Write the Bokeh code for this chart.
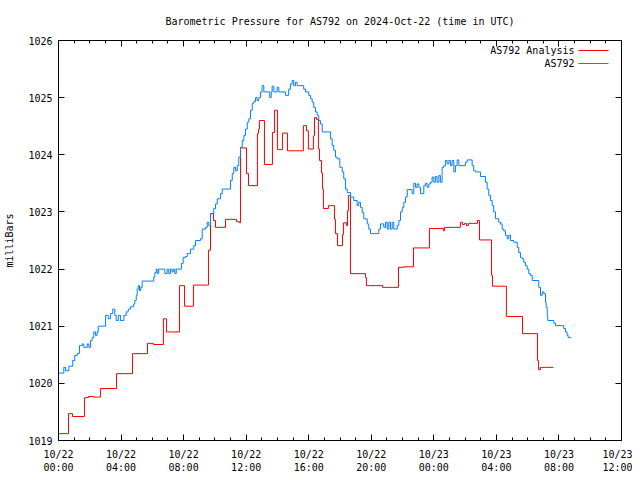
from bokeh.plotting import figure
from bokeh.models import Range1d, FixedTicker, LinearAxis, Label, BoxAnnotation
from bokeh.embed import file_html
from bokeh.resources import INLINE

FONT = "DejaVu Sans Mono"
RED = "#ff0000"
BLUE = "#0080ff"

# AS792 Analysis (hours since 2024-10-22 00:00 UTC, millibars)
analysis_hours = [0.00, 0.64, 0.90, 1.66, 1.92, 2.24, 2.69, 3.71, 4.73, 5.69, 6.07, 6.71, 6.91,
                  7.74, 8.06, 8.63, 9.59, 9.72, 9.91, 10.04, 10.68, 11.38, 11.57, 11.64, 12.02,
                  12.15, 12.72, 12.79, 12.85, 13.17, 13.68, 13.81, 14.00, 14.32, 14.64, 15.66,
                  15.86, 15.98, 16.30, 16.37, 16.50, 16.62, 16.69, 16.82, 16.88, 16.94, 17.26,
                  17.65, 17.71, 17.84, 18.16, 18.22, 18.41, 18.48, 18.54, 18.67, 19.63, 19.69,
                  20.72, 21.74, 22.06, 22.70, 23.72, 24.62, 24.68, 25.70, 25.83, 25.96, 26.09,
                  26.21, 26.79, 26.92, 27.69, 27.75, 28.64, 29.67, 30.63, 30.69, 30.82, 31.65]
analysis_mbar = [1019.12, 1019.47, 1019.42, 1019.75, 1019.77, 1019.76, 1019.91, 1020.17, 1020.52,
                 1020.70, 1020.68, 1021.13, 1020.90, 1021.71, 1021.35, 1021.72, 1022.33, 1022.97,
                 1022.85, 1022.73, 1022.87, 1022.83, 1022.81, 1024.12, 1023.67, 1023.46, 1024.37,
                 1024.45, 1024.60, 1023.83, 1024.39, 1024.78, 1024.09, 1024.38, 1024.07, 1024.51,
                 1024.42, 1024.10, 1024.33, 1024.65, 1024.62, 1024.10, 1023.90, 1023.68, 1023.40,
                 1023.06, 1023.11, 1022.87, 1022.62, 1022.41, 1022.60, 1022.81, 1022.76, 1023.02,
                 1023.29, 1021.92, 1021.85, 1021.71, 1021.68, 1022.03, 1022.04, 1022.37, 1022.71,
                 1022.67, 1022.73, 1022.82, 1022.78, 1022.80, 1022.76, 1022.80, 1022.85, 1022.51,
                 1021.89, 1021.70, 1021.17, 1020.87, 1020.40, 1020.24, 1020.28, 1020.28]

# AS792 station observations
station_hours = [0.00, 0.34, 0.45, 0.66, 0.91, 1.04, 1.20, 1.34, 1.52, 1.62, 1.84, 1.94, 2.05,
                 2.15, 2.26, 2.37, 2.47, 2.54, 3.01, 3.18, 3.32, 3.47, 3.60, 3.69, 3.82, 3.96,
                 4.18, 4.33, 4.46, 4.60, 4.81, 4.88, 4.97, 5.03, 5.10, 5.18, 5.26, 5.35, 6.09,
                 6.16, 6.25, 6.31, 6.41, 6.80, 6.95, 7.05, 7.16, 7.27, 7.37, 7.44, 7.53, 7.86,
                 7.97, 8.12, 8.23, 8.44, 8.65, 8.76, 9.08, 9.19, 9.40, 9.51, 9.61, 9.72, 9.93,
                 10.04, 10.15, 10.36, 10.47, 11.00, 11.11, 11.21, 11.32, 11.43, 11.53, 11.64,
                 11.75, 11.85, 11.96, 12.07, 12.17, 12.28, 12.39, 12.49, 12.60, 12.70, 12.81,
                 12.92, 13.02, 13.13, 13.51, 13.60, 13.66, 13.77, 13.98, 14.09, 14.51, 14.72,
                 14.83, 14.94, 15.04, 15.15, 15.26, 15.68, 15.79, 16.00, 16.11, 16.22, 16.32,
                 16.43, 16.54, 16.64, 16.75, 16.86, 17.39, 17.50, 17.60, 17.71, 17.82, 17.99,
                 18.14, 18.24, 18.35, 18.46, 18.67, 18.88, 19.10, 19.20, 19.31, 19.42, 19.52,
                 19.74, 19.84, 19.95, 20.48, 20.59, 20.80, 20.91, 21.02, 21.12, 21.23, 21.34,
                 21.44, 21.66, 21.76, 21.87, 21.98, 22.08, 22.19, 22.30, 22.61, 22.72, 22.83,
                 22.93, 23.04, 23.15, 23.36, 23.47, 23.57, 23.68, 23.79, 23.89, 24.00, 24.10,
                 24.21, 24.32, 24.42, 24.53, 24.64, 24.74, 24.85, 24.96, 25.06, 25.17, 25.28,
                 25.38, 25.49, 25.60, 26.02, 26.13, 26.45, 26.55, 26.66, 26.98, 27.30, 27.41,
                 27.51, 27.62, 27.73, 27.83, 27.94, 28.15, 28.26, 28.37, 28.47, 28.58, 28.69,
                 28.79, 28.90, 29.11, 29.33, 29.43, 29.54, 29.65, 29.75, 29.86, 29.97, 30.07,
                 30.18, 30.29, 30.71, 30.82, 30.93, 31.03, 31.14, 31.18, 31.25, 31.29, 31.67,
                 31.78, 32.31, 32.42, 32.52, 32.59, 32.78]
station_mbar = [1020.18, 1020.28, 1020.22, 1020.30, 1020.40, 1020.49, 1020.52, 1020.66, 1020.69,
                1020.63, 1020.69, 1020.63, 1020.75, 1020.80, 1020.90, 1020.84, 1020.90, 1021.00,
                1021.19, 1021.13, 1021.22, 1021.30, 1021.19, 1021.10, 1021.19, 1021.10, 1021.19,
                1021.25, 1021.30, 1021.34, 1021.39, 1021.45, 1021.54, 1021.65, 1021.71, 1021.62,
                1021.68, 1021.79, 1021.86, 1021.94, 1022.00, 1021.92, 1022.00, 1021.92, 1022.00,
                1021.92, 1022.00, 1021.95, 1022.00, 1021.92, 1022.00, 1022.10, 1022.20, 1022.22,
                1022.27, 1022.35, 1022.41, 1022.50, 1022.53, 1022.70, 1022.73, 1022.82, 1022.76,
                1022.97, 1023.06, 1023.14, 1023.23, 1023.32, 1023.40, 1023.55, 1023.67, 1023.78,
                1023.72, 1023.81, 1023.96, 1024.13, 1024.25, 1024.34, 1024.45, 1024.57, 1024.63,
                1024.78, 1024.90, 1024.93, 1025.00, 1024.95, 1025.00, 1025.10, 1025.21, 1025.10,
                1025.00, 1025.10, 1025.20, 1025.10, 1025.18, 1025.10, 1025.04, 1025.15, 1025.24,
                1025.30, 1025.21, 1025.27, 1025.21, 1025.15, 1025.10, 1025.04, 1024.98, 1024.92,
                1024.83, 1024.75, 1024.69, 1024.60, 1024.54, 1024.40, 1024.28, 1024.16, 1024.08,
                1023.96, 1023.93, 1023.78, 1023.70, 1023.58, 1023.40, 1023.34, 1023.26, 1023.20,
                1023.11, 1023.17, 1023.08, 1022.99, 1022.88, 1022.79, 1022.70, 1022.62, 1022.70,
                1022.79, 1022.73, 1022.82, 1022.70, 1022.82, 1022.70, 1022.82, 1022.70, 1022.76,
                1022.85, 1023.00, 1023.08, 1023.17, 1023.26, 1023.39, 1023.32, 1023.50, 1023.43,
                1023.49, 1023.43, 1023.32, 1023.46, 1023.50, 1023.43, 1023.49, 1023.52, 1023.61,
                1023.52, 1023.62, 1023.52, 1023.64, 1023.52, 1023.78, 1023.81, 1023.90, 1023.84,
                1023.90, 1023.81, 1023.90, 1023.70, 1023.81, 1023.91, 1023.81, 1023.87, 1023.91,
                1023.81, 1023.72, 1023.70, 1023.62, 1023.52, 1023.40, 1023.29, 1023.20, 1023.11,
                1023.00, 1022.88, 1022.82, 1022.79, 1022.70, 1022.67, 1022.59, 1022.53, 1022.59,
                1022.50, 1022.47, 1022.38, 1022.29, 1022.20, 1022.18, 1022.12, 1022.06, 1022.00,
                1021.92, 1021.89, 1021.80, 1021.68, 1021.54, 1021.60, 1021.57, 1021.42, 1021.33,
                1021.17, 1021.10, 1021.05, 1021.01, 1020.96, 1020.90, 1020.84, 1020.80, 1020.80]

x_tick_hours = [0, 4, 8, 12, 16, 20, 24, 28, 32, 36]
x_tick_labels = ["10/22\n00:00", "10/22\n04:00", "10/22\n08:00", "10/22\n12:00", "10/22\n16:00",
                 "10/22\n20:00", "10/23\n00:00", "10/23\n04:00", "10/23\n08:00", "10/23\n12:00"]
x_minor_hours = list(range(0, 37))
y_ticks = [1019, 1020, 1021, 1022, 1023, 1024, 1025, 1026]
series_names = ["AS792 Analysis", "AS792"]

p = figure(frame_width=563, frame_height=400, output_backend="svg", toolbar_location=None,
           x_range=Range1d(0, 36), y_range=Range1d(1019, 1026),
           min_border_left=58, min_border_right=11, min_border_top=40, min_border_bottom=0,
           title="Barometric Pressure for AS792 on 2024-Oct-22 (time in UTC)")
p.title.align = "center"
p.title.text_font = FONT
p.title.text_font_size = "10px"
p.title.text_font_style = "normal"
p.title.text_color = "black"
p.title.standoff = 27
p.xgrid.visible = False
p.ygrid.visible = False
p.outline_line_color = "black"
p.background_fill_color = "white"
p.border_fill_color = "white"

xt = FixedTicker(ticks=x_tick_hours, minor_ticks=x_minor_hours)
yt = FixedTicker(ticks=y_ticks, minor_ticks=[])

def style(ax, labels=True):
    ax.axis_line_color = "black"
    ax.major_tick_line_color = "black"
    ax.minor_tick_line_color = "black"
    ax.major_tick_in = 6
    ax.major_tick_out = 0
    ax.minor_tick_in = 3
    ax.minor_tick_out = 0
    ax.major_label_text_font = FONT
    ax.major_label_text_font_size = "10px" if labels else "0px"
    ax.major_label_text_color = "black"
    ax.axis_label_text_font = FONT
    ax.axis_label_text_font_size = "10px"
    ax.axis_label_text_font_style = "normal"
    ax.axis_label_text_color = "black"

bx = p.xaxis[0]
bx.ticker = xt
bx.major_label_overrides = {h: s for h, s in zip(x_tick_hours, x_tick_labels)}
style(bx)
bx.major_label_standoff = 8

ly = p.yaxis[0]
ly.ticker = yt
style(ly)
ly.major_label_standoff = 6
ly.axis_label = "milliBars"
ly.axis_label_standoff = 10

top = LinearAxis(ticker=xt, major_label_standoff=0)
style(top, labels=False)
top.major_label_overrides = {h: "" for h in x_tick_hours}
p.add_layout(top, "above")

right = LinearAxis(ticker=yt, major_label_standoff=0)
style(right, labels=False)
right.major_label_overrides = {v: "" for v in y_ticks}
p.add_layout(right, "right")

p.step(analysis_hours, analysis_mbar, mode="after", line_color=RED, line_width=1)
p.step(station_hours, station_mbar, mode="after", line_color=BLUE, line_width=1)

# gnuplot-style key: text right-aligned, sample line to the right
for i, (name, col) in enumerate(zip(series_names, [RED, BLUE])):
    yy = 390 - 13 * i
    p.add_layout(Label(x=516, y=yy, x_units="screen", y_units="screen", text=name,
                       text_font=FONT, text_font_size="10px", text_color="black",
                       text_align="right", text_baseline="middle"))
    p.add_layout(BoxAnnotation(left=520, right=550, bottom=yy - 0.5, top=yy + 0.5,
                               left_units="screen", right_units="screen",
                               bottom_units="screen", top_units="screen",
                               fill_color=col, fill_alpha=1, line_color=None))

open("out.html", "w").write(file_html(p, INLINE))
